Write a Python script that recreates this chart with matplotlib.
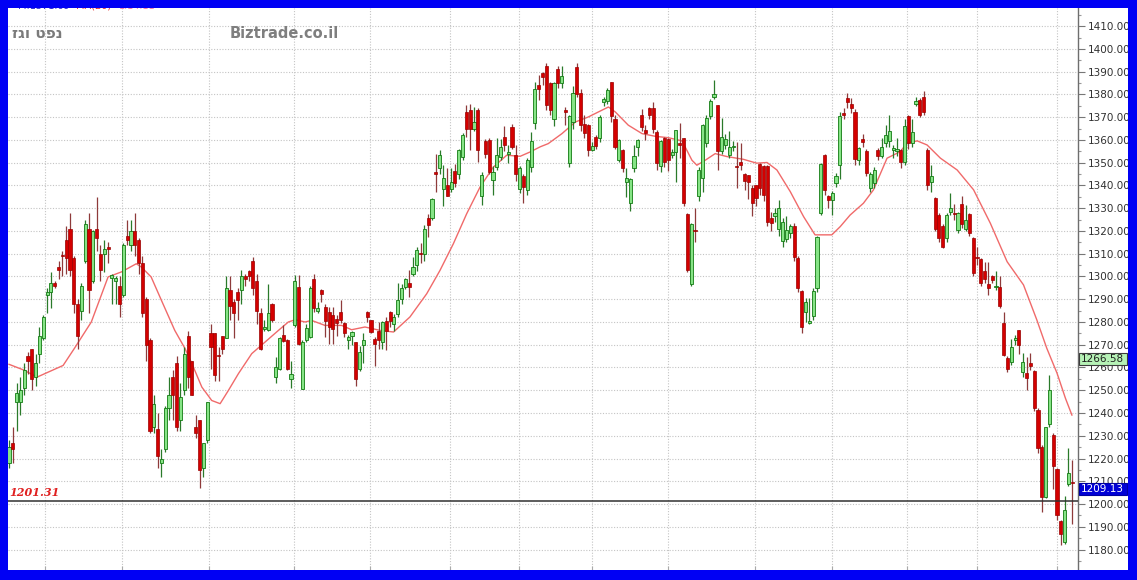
import numpy as np
import matplotlib.pyplot as plt
from matplotlib.patches import Rectangle
from matplotlib.ticker import MultipleLocator, FormatStrFormatter
from matplotlib.transforms import blended_transform_factory

# daily candles (oldest first)
opens = [1218, 1227, 1245, 1245, 1251, 1265, 1268, 1256, 1266, 1273,
         1292, 1293, 1297, 1304, 1309.5, 1316, 1321, 1308, 1288, 1285,
         1307, 1321, 1298, 1321, 1310, 1310, 1313, 1299.5, 1298, 1296,
         1292, 1318, 1314, 1320, 1316, 1306, 1290, 1272, 1234, 1233,
         1218, 1224, 1242, 1256, 1262, 1237, 1250, 1274, 1263, 1234,
         1237, 1216, 1228, 1275, 1275, 1265.5, 1274, 1273, 1294, 1289,
         1293, 1294, 1300, 1302.5, 1307, 1298, 1284, 1277, 1276.5, 1288,
         1256, 1259.5, 1274.5, 1272, 1255, 1278.5, 1295.5, 1250.5, 1272, 1273.5,
         1299, 1285, 1294, 1286.5, 1284.5, 1283, 1281.5, 1284.5, 1279.5, 1272,
         1274, 1271, 1259.5, 1270, 1284.5, 1281, 1272.5, 1276, 1271, 1280.5,
         1284.5, 1279, 1283.5, 1290, 1295.5, 1297, 1301, 1305, 1310.5, 1310,
         1325.5, 1325.5, 1346, 1347.5, 1338.5, 1340, 1338.5, 1346.5, 1345, 1352.5,
         1372.5, 1373, 1365, 1373, 1335.5, 1359.5, 1360, 1342.5, 1348, 1352.5,
         1361.5, 1354, 1365.5, 1353.5, 1338.5, 1344, 1338, 1348, 1367.5, 1384,
         1389.5, 1392.5, 1385, 1369, 1391, 1385, 1373, 1350, 1368, 1392,
         1380.5, 1367, 1366.5, 1355.5, 1361.5, 1361, 1376.5, 1377, 1385.5, 1369,
         1351, 1355.5, 1341.5, 1332.5, 1347.5, 1357, 1371, 1364.5, 1374, 1374,
         1363.5, 1348.5, 1361, 1360.5, 1353.5, 1354.5, 1358.5, 1361, 1327.5, 1296.5,
         1320.5, 1335.5, 1343.5, 1358.5, 1370.5, 1379, 1375.5, 1355, 1358, 1353.5,
         1357, 1348.5, 1350.5, 1345, 1344.5, 1339, 1340, 1349.5, 1348.5, 1348.5,
         1325.5, 1326.5, 1321, 1315.5, 1316.5, 1319, 1322, 1308, 1293.5, 1284.5,
         1279.5, 1282.5, 1295, 1328, 1353.5, 1335.5, 1333.5, 1341, 1349, 1372,
         1378.5, 1376, 1372.5, 1351, 1360.5, 1355, 1339, 1341, 1355.5, 1353,
         1358.5, 1359.5, 1355.5, 1355, 1355.5, 1350.5, 1370.5, 1358.5, 1376, 1377.5,
         1379, 1355.5, 1341.5, 1334.5, 1327, 1322, 1317, 1328.5, 1328, 1320.5,
         1332, 1321, 1327.5, 1317, 1308.5, 1307.5, 1302.5, 1296.5, 1300, 1295.5,
         1295.5, 1279.5, 1264, 1262.5, 1272, 1276.5, 1258, 1257.5, 1262, 1258.5,
         1241.5, 1225, 1203, 1235, 1230.5, 1215.5, 1192.5, 1183.5, 1209, 1209.5]
closes = [1225, 1224, 1249, 1250, 1259, 1263, 1255, 1262, 1274, 1282,
          1293, 1297, 1296, 1303, 1309, 1308, 1303, 1288, 1274, 1296,
          1323, 1294, 1320, 1317, 1303, 1312, 1312, 1300.5, 1299.5, 1288,
          1314, 1316, 1320, 1314, 1306, 1284, 1270, 1232, 1244, 1221,
          1220, 1242, 1248, 1248, 1234, 1247, 1266, 1256, 1248, 1231,
          1215, 1227, 1245, 1269, 1256.5, 1265, 1268, 1295, 1287, 1284,
          1289.5, 1300, 1299, 1300, 1295, 1285, 1268, 1278, 1284, 1281,
          1260, 1273, 1271.5, 1259.5, 1257, 1298, 1270.5, 1271, 1277.5, 1295,
          1286, 1286, 1292.5, 1280.5, 1278, 1277, 1279.5, 1281, 1275, 1273.5,
          1275.5, 1255, 1267, 1272, 1282, 1275.5, 1270.5, 1272, 1280, 1276,
          1280.5, 1282, 1289.5, 1295, 1299, 1295.5, 1304, 1311.5, 1310, 1321,
          1322.5, 1334, 1345, 1353.5, 1343.5, 1335.5, 1341.5, 1341, 1355.5, 1362,
          1365, 1365, 1368, 1355.5, 1344.5, 1354, 1346, 1346, 1353.5, 1357,
          1358, 1354.5, 1357, 1345, 1347.5, 1339.5, 1351, 1359.5, 1382.5, 1382.5,
          1387.5, 1375.5, 1373, 1385, 1385, 1388, 1372.5, 1370.5, 1380.5, 1380,
          1366.5, 1363, 1355.5, 1357.5, 1357.5, 1370, 1378, 1382, 1370.5, 1357,
          1360, 1347.5, 1343.5, 1343, 1353, 1360, 1365.5, 1363, 1371, 1365,
          1350, 1359.5, 1350.5, 1351, 1354.5, 1364.5, 1358, 1332.5, 1303, 1323,
          1320, 1347, 1366.5, 1369.5, 1377, 1380, 1355, 1361.5, 1360.5, 1357,
          1357.5, 1348, 1349, 1342, 1341.5, 1332.5, 1334.5, 1339, 1336, 1324,
          1323.5, 1328, 1330, 1324, 1320.5, 1322, 1308.5, 1295, 1278, 1289,
          1280.5, 1293.5, 1317.5, 1349.5, 1338, 1333.5, 1336.5, 1344, 1370.5, 1371,
          1376.5, 1374, 1351.5, 1356.5, 1359, 1345.5, 1345, 1347, 1353, 1357,
          1362, 1364, 1356.5, 1356, 1350.5, 1366, 1358.5, 1363.5, 1377, 1371,
          1372.5, 1340, 1344, 1321, 1317, 1313, 1327, 1330, 1327.5, 1328,
          1323, 1325, 1319, 1301.5, 1308, 1297, 1299, 1295, 1298.5, 1296,
          1287, 1265.5, 1259.5, 1269, 1273, 1270, 1262.5, 1255.5, 1260.5, 1242,
          1224.5, 1203, 1234, 1250, 1216.5, 1195, 1187, 1197.5, 1213.5, 1209.13]
highs = [1228, 1234, 1253, 1256, 1262, 1267, 1268, 1266, 1278, 1283,
         1295, 1302, 1298, 1307, 1311, 1322, 1328, 1309, 1290, 1297,
         1325, 1328, 1320.5, 1335, 1314, 1316, 1315, 1301, 1300, 1300,
         1314.5, 1325, 1325, 1328, 1317, 1309, 1291, 1273, 1248, 1240,
         1224, 1243, 1256, 1259, 1265, 1253, 1269, 1276, 1263, 1239,
         1237, 1227, 1245, 1279, 1275, 1269, 1274, 1300, 1300, 1290,
         1295, 1303, 1301, 1303, 1308.5, 1301, 1286, 1281, 1296.5, 1288.5,
         1264.5, 1273.5, 1278.5, 1272.5, 1263, 1300.5, 1300.5, 1272, 1279, 1296,
         1301, 1289, 1294.5, 1288, 1286.5, 1286.5, 1283, 1289.5, 1280, 1274.5,
         1276, 1271, 1269.5, 1275, 1285, 1281, 1273.5, 1280, 1280.5, 1282,
         1285, 1283.5, 1297, 1296.5, 1299.5, 1303, 1308.5, 1313, 1314.5, 1322.5,
         1327.5, 1334.5, 1354, 1355.5, 1349, 1347.5, 1347.5, 1349.5, 1356, 1363,
         1375.5, 1376, 1374.5, 1374, 1346, 1360.5, 1361, 1348.5, 1361, 1360.5,
         1366, 1358, 1367, 1358, 1348.5, 1345, 1352, 1363.5, 1385.5, 1388.5,
         1390, 1394, 1385.5, 1385.5, 1392.5, 1392.5, 1374.5, 1371, 1383.5, 1394,
         1382.5, 1371, 1367, 1359, 1362, 1371, 1379, 1383, 1385.5, 1371,
         1360.5, 1356, 1347.5, 1343.5, 1358, 1360.5, 1373.5, 1366.5, 1374.5, 1376.5,
         1364.5, 1360, 1361.5, 1361, 1356, 1364.5, 1367.5, 1361, 1328, 1323.5,
         1330, 1348, 1367, 1371, 1378, 1386.5, 1375.5, 1369.5, 1362.5, 1364,
         1359.5, 1359, 1358.5, 1345.5, 1344.5, 1340, 1340, 1350, 1349, 1349,
         1328.5, 1330, 1333.5, 1325.5, 1326.5, 1323, 1323.5, 1309, 1294, 1290.5,
         1290.5, 1295, 1318, 1350, 1354, 1336, 1337.5, 1345.5, 1372.5, 1374,
         1380.5, 1378.5, 1373.5, 1357, 1362.5, 1356, 1346, 1348, 1356.5, 1361,
         1366.5, 1371, 1358, 1361, 1356, 1369, 1371, 1369, 1379, 1378.5,
         1381.5, 1356.5, 1349, 1335, 1328, 1323, 1328, 1336.5, 1332, 1328.5,
         1335.5, 1331.5, 1328, 1317.5, 1313, 1308, 1306.5, 1306.5, 1300.5, 1302.5,
         1300, 1284.5, 1265, 1272.5, 1274.5, 1276.5, 1266.5, 1264.5, 1266.5, 1259,
         1242, 1226, 1234, 1256.5, 1231, 1216, 1193, 1203.5, 1224.5, 1219.5]
lows = [1216, 1218, 1232, 1239, 1248, 1257, 1250, 1252, 1262, 1272,
        1284, 1286, 1295, 1299, 1300, 1301, 1300, 1284, 1268, 1281,
        1306, 1284, 1297, 1311, 1298, 1302, 1306, 1288, 1288, 1282,
        1291, 1314, 1311, 1309, 1301, 1282, 1263, 1231, 1231, 1216,
        1212, 1223, 1237, 1237, 1232, 1232, 1248, 1251, 1248, 1229,
        1207, 1212, 1227, 1259.5, 1254, 1254, 1266, 1273, 1281, 1273,
        1281, 1288, 1296, 1298, 1292, 1279, 1267.5, 1276, 1276, 1280,
        1253, 1259, 1271, 1259, 1251, 1278, 1270, 1250.5, 1271, 1273,
        1284.5, 1284, 1289, 1273.5, 1270.5, 1270.5, 1274, 1279.5, 1273.5, 1268,
        1270, 1252, 1258.5, 1262, 1280, 1275, 1260.5, 1268, 1268, 1267.5,
        1278, 1276, 1282, 1288, 1294.5, 1291, 1300, 1302.5, 1306, 1307,
        1317.5, 1325, 1337, 1345, 1331, 1335.5, 1337, 1339.5, 1343, 1351,
        1361.5, 1355.5, 1364, 1350.5, 1331.5, 1352, 1345, 1336, 1347, 1351,
        1355, 1350, 1356, 1342, 1336.5, 1332.5, 1336, 1346, 1365, 1377.5,
        1384, 1373, 1371, 1366, 1383, 1383, 1366.5, 1348, 1365, 1379,
        1364, 1361, 1353, 1355, 1356, 1359, 1375, 1376, 1368, 1356,
        1350.5, 1346, 1335, 1329, 1346, 1353, 1364, 1360, 1369, 1363,
        1347, 1346, 1348, 1346.5, 1352, 1341.5, 1352, 1331, 1302, 1296,
        1315, 1333, 1337, 1357, 1369, 1378, 1347, 1354, 1356, 1352,
        1355, 1339, 1347, 1338, 1334, 1326.5, 1331, 1336, 1333, 1322,
        1320, 1324, 1318, 1313, 1315, 1317, 1307, 1293, 1275, 1280,
        1279, 1281, 1293, 1327, 1336, 1330, 1327, 1339.5, 1343, 1369,
        1374, 1372, 1349, 1349, 1357, 1344, 1337, 1339, 1351, 1352,
        1357, 1357, 1352, 1353, 1347.5, 1349, 1356, 1357, 1375, 1370,
        1371, 1338, 1337, 1320, 1315, 1312.5, 1315, 1327, 1325, 1319,
        1321.5, 1320, 1318, 1300, 1305, 1296, 1297, 1292, 1297, 1294,
        1286, 1265, 1258, 1261, 1270, 1266, 1256, 1250, 1259, 1241,
        1222.5, 1196.5, 1202.5, 1234, 1206.5, 1193, 1182, 1182.5, 1208, 1191]

# 20-day moving average as drawn (candle index, value)
ma_pos = [0, 3.7, 7.4, 14.2, 17.2, 21.6, 26.0, 29.5, 33.4, 34.7,
          37.3, 40.0, 43.5, 46.2, 48.0, 50.6, 53.2, 55.4, 57.6, 60.2,
          63.7, 67.2, 70.7, 73.3, 75.1, 77.7, 79.4, 82.9, 87.3, 89.9,
          93.4, 97.4, 100.9, 105.2, 109.6, 113.1, 116.6, 120.1, 123.6, 127.1,
          130.6, 134.1, 136.7, 139.4, 141.5, 145.1, 148.6, 152.0, 155.6, 157.3,
          159.1, 162.5, 166.1, 169.6, 173.0, 176.6, 179.2, 180.5, 182.7, 185.3,
          188.4, 192.7, 196.2, 198.9, 201.5, 205.0, 208.5, 211.5, 215.9, 218.1,
          220.7, 224.2, 226.8, 230.4, 233.9, 235.6, 238.3, 240.9, 244.4, 248.8,
          253.1, 257.5, 261.9, 266.2, 269.7, 272.3, 275.0, 277.2, 278.9]
ma_val = [1261.4, 1259.0, 1255.8, 1260.9, 1268.5, 1280.0, 1299.8, 1302.0, 1305.6, 1304.2,
          1299.8, 1289.5, 1276.3, 1268.3, 1261.7, 1251.4, 1245.5, 1244.1, 1250.0, 1257.3,
          1266.1, 1271.2, 1276.3, 1280.0, 1281.0, 1280.0, 1280.7, 1278.5, 1278.5, 1276.6,
          1277.8, 1276.3, 1275.6, 1282.2, 1292.4, 1302.7, 1314.4, 1327.6, 1339.3, 1348.1,
          1353.3, 1352.8, 1354.7, 1357.0, 1358.4, 1362.8, 1367.9, 1370.1, 1373.1, 1374.5,
          1372.3, 1366.5, 1362.8, 1361.6, 1361.0, 1359.6, 1351.1, 1348.9, 1351.1, 1354.0,
          1352.7, 1351.5, 1349.8, 1350.1, 1346.8, 1337.3, 1326.3, 1318.3, 1318.3, 1321.9,
          1327.0, 1332.2, 1338.0, 1352.0, 1354.9, 1358.6, 1359.6, 1357.8, 1352.0, 1346.8,
          1338.1, 1323.4, 1306.5, 1296.3, 1280.9, 1268.5, 1257.5, 1246.5, 1239.1]

# month boundaries (vertical grid), in candle index units
month_pos = [9.5, 29.7, 52.5, 74.8, 94.7, 115.7, 133.9, 153, 173, 195.8, 216, 235.7, 254, 275.1]

support_level = 1201.31
ma_last = 1266.58
last_close = 1209.13

W, H = 1137, 580
fig = plt.figure(figsize=(W / 100, H / 100), dpi=100)
fig.patch.set_facecolor('white')
ax = fig.add_axes([8 / W, 10 / H, 1070 / W, 562 / H])

o = np.array(opens, float)
c = np.array(closes, float)
hi = np.array(highs, float)
lo = np.array(lows, float)
idx = np.arange(len(o))
up = c >= o
dn = ~up

# wicks
ax.vlines(idx[up], lo[up], hi[up], color='#2a7a2a', lw=0.9, zorder=3)
ax.vlines(idx[dn], lo[dn], hi[dn], color='#8e3a3a', lw=0.9, zorder=3)

# bodies
bot = np.minimum(o, c)
tall = np.maximum(np.abs(c - o), 0.5)
ax.bar(idx[up], tall[up], bottom=bot[up], width=0.82, color='#86e486',
       edgecolor='#127a12', linewidth=0.6, zorder=4)
ax.bar(idx[dn], tall[dn], bottom=bot[dn], width=0.82, color='#d40000',
       edgecolor='#9a0000', linewidth=0.5, zorder=4)

# moving average
ax.plot(ma_pos, ma_val, color='#f06a6a', lw=1.0, zorder=2.5)

# support line
ax.axhline(support_level, color='#303030', lw=1.1, zorder=5)
ax.text(0.001, support_level + 1.2, '%.2f' % support_level,
        transform=blended_transform_factory(ax.transAxes, ax.transData),
        ha='left', va='bottom', color='#e02020', fontsize=8,
        fontweight='bold', style='italic', family='DejaVu Serif', zorder=6)

ax.set_xlim(-0.26, 280.5)
ax.set_ylim(1171.0, 1418.0)

# right price axis
ax.yaxis.tick_right()
ax.yaxis.set_major_locator(MultipleLocator(10))
ax.yaxis.set_minor_locator(MultipleLocator(5))
ax.yaxis.set_major_formatter(FormatStrFormatter('%.2f'))
ax.tick_params(axis='y', which='major', direction='out', length=5, width=0.8,
               color='#777777', labelsize=7.5, labelcolor='#303030', pad=2)
ax.tick_params(axis='y', which='minor', direction='out', length=2.5, width=0.8,
               color='#999999')

ax.set_xticks(month_pos)
ax.tick_params(axis='x', which='major', direction='in', length=3,
               color='#aaaaaa', labelbottom=False)

ax.grid(True, which='major', color='#c4c4c4', ls=(0, (1, 1.5)), lw=0.8, zorder=0)
ax.set_axisbelow(True)

for s in ['left', 'top', 'bottom']:
    ax.spines[s].set_visible(False)
ax.spines['right'].set_color('#6e6e6e')
ax.spines['right'].set_linewidth(1.0)

# value boxes on the price axis
trans = blended_transform_factory(fig.transFigure, ax.transData)
box_h = 12 / 562 * (1418.0 - 1171.0)
ax.add_patch(Rectangle((1079 / W, ma_last - box_h), 48 / W, box_h, transform=trans,
                       facecolor='#b6f2b6', edgecolor='#3c3c3c', lw=0.8,
                       clip_on=False, zorder=7))
ax.text(1081 / W, ma_last - box_h / 2, '%.2f' % ma_last, transform=trans,
        ha='left', va='center', fontsize=7.5, color='#202020', clip_on=False, zorder=8)
ax.add_patch(Rectangle((1079 / W, last_close - box_h), 48 / W, box_h, transform=trans,
                       facecolor='#0000d6', edgecolor='#0000a0', lw=0.8,
                       clip_on=False, zorder=7))
ax.text(1081 / W, last_close - box_h / 2, '%.2f' % last_close, transform=trans,
        ha='left', va='center', fontsize=7.5, color='white', clip_on=False, zorder=8)

# header texts (partly hidden under the frame)
fig.text(18 / W, 1 - 11 / H, 'M:1371.69', color='#2a2ad0', fontsize=7, va='bottom', zorder=5)
fig.text(76 / W, 1 - 11 / H, 'MA(20)', color='#e03030', fontsize=7, va='bottom', zorder=5)
fig.text(119 / W, 1 - 11 / H, '1.14.11', color='#f080a0', fontsize=7, va='bottom', zorder=5)

# instrument name in visual (right-to-left) order
fig.text(63 / W, 1 - 33 / H, 'זגו טפנ', ha='right', va='center', fontsize=11,
         fontweight='bold', color='#7a7a7a', zorder=5)
fig.text(230 / W, 1 - 33 / H, 'Biztrade.co.il', ha='left', va='center', fontsize=10.5,
         fontweight='bold', color='#7f7f7f', zorder=5)

# blue frame
blue = '#0000f4'
for rx, ry, rw, rh in [(0, 0, 8, H), (0, 0, W, 10), (0, H - 8, W, 8), (1128, 0, W - 1128, H)]:
    fig.add_artist(Rectangle((rx / W, ry / H), rw / W, rh / H, transform=fig.transFigure,
                             facecolor=blue, edgecolor='none', zorder=20))

fig.savefig('out.png', dpi=100)
